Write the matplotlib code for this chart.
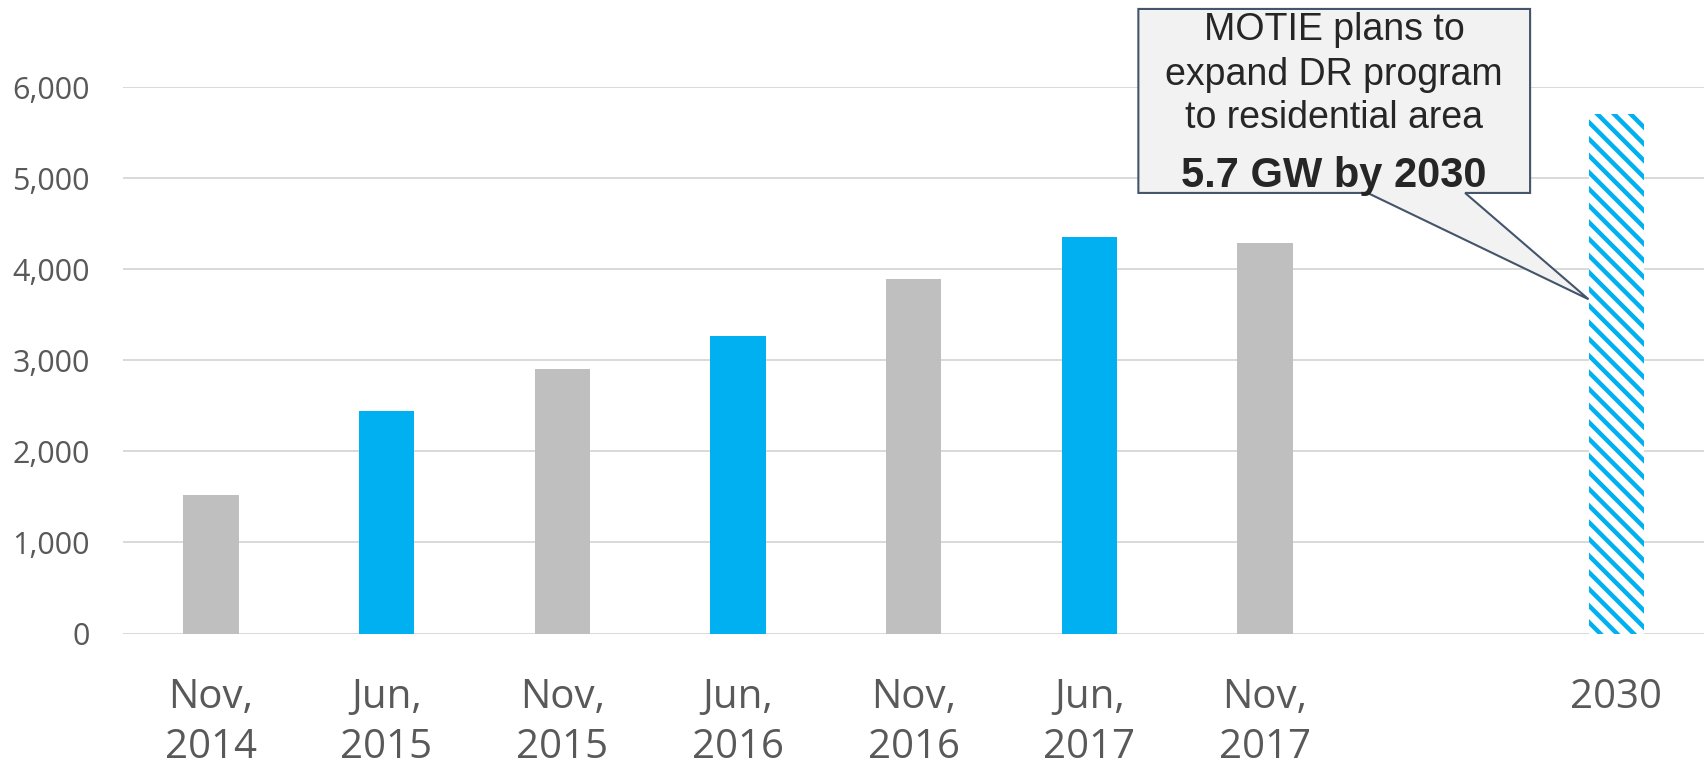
"""Demand response capacity bar chart with callout."""

import matplotlib

matplotlib.use('Agg')
import matplotlib.pyplot as plt
from matplotlib.patches import Polygon

# data
periods = ['Nov,\n2014', 'Jun,\n2015', 'Nov,\n2015', 'Jun,\n2016',
           'Nov,\n2016', 'Jun,\n2017', 'Nov,\n2017']
capacity = [1525, 2445, 2900, 3270, 3890, 4355, 4285]
bar_colors = ['#bfbfbf', '#00b0f0', '#bfbfbf', '#00b0f0',
              '#bfbfbf', '#00b0f0', '#bfbfbf']
target_label = '2030'
target_value = 5700
y_ticks = [0, 1000, 2000, 3000, 4000, 5000, 6000]

callout_lines = ['MOTIE plans to', 'expand DR program', 'to residential area']
callout_bold = '5.7 GW by 2030'

BAR_W = 0.315
TEXT_GREY = '#595959'

plt.rcParams['font.family'] = ['Open Sans', 'DejaVu Sans']
plt.rcParams['hatch.linewidth'] = 3.2
plt.rcParams['hatch.color'] = '#00b0f0'

fig = plt.figure(figsize=(17.04, 7.72), dpi=100)
ax = fig.add_axes([0.0722, 0.1794, 0.9278, 0.7079])

x = list(range(len(periods)))
x_target = len(periods) + 1

ax.bar(x, capacity, width=BAR_W, color=bar_colors, zorder=2)
ax.bar([x_target], [target_value], width=BAR_W, facecolor='white',
       edgecolor='#00b0f0', linewidth=0, hatch='\\\\', zorder=2)

ax.set_xlim(-0.5, 8.5)
ax.set_ylim(0, 6000)
ax.set_yticks(y_ticks)
ax.set_yticklabels([f'{v:,}' for v in y_ticks])
ax.set_xticks(x + [x_target])
ax.set_xticklabels(periods + [target_label])

ax.grid(axis='y', color='#d9d9d9', linewidth=1.4, zorder=0)
ax.set_axisbelow(True)
for s in ax.spines.values():
    s.set_visible(False)

ax.tick_params(axis='y', length=0, pad=24, labelsize=22, labelcolor=TEXT_GREY)
ax.tick_params(axis='x', length=0, pad=32, labelsize=29, labelcolor=TEXT_GREY)
for lbl in ax.get_xticklabels():
    lbl.set_linespacing(1.3)

# callout box with tail pointing at the 2030 bar
box_l, box_r = 5.28, 7.51
box_b, box_t = 4837, 6857
tail_a, tail_b = 6.585, 7.14
tip = (x_target - BAR_W / 2, 3670)
shape = [(box_l, box_b), (tail_a, box_b), tip, (tail_b, box_b),
         (box_r, box_b), (box_r, box_t), (box_l, box_t)]
ax.add_patch(Polygon(shape, closed=True, facecolor='#f2f2f2',
                     edgecolor='#44546a', linewidth=1.5, clip_on=False,
                     zorder=5))

cx = (box_l + box_r) / 2
line_y = [6517, 6022, 5550]
for txt, ty in zip(callout_lines, line_y):
    ax.text(cx, ty, txt, ha='center', va='baseline', fontsize=27,
            family=['Liberation Sans', 'DejaVu Sans'], color='#262626',
            zorder=6, clip_on=False)
ax.text(cx, 4903, callout_bold, ha='center', va='baseline', fontsize=30,
        fontweight='bold', family=['Liberation Sans', 'DejaVu Sans'],
        color='#262626', zorder=6, clip_on=False)

fig.savefig('out.png', dpi=100)
plt.close(fig)
